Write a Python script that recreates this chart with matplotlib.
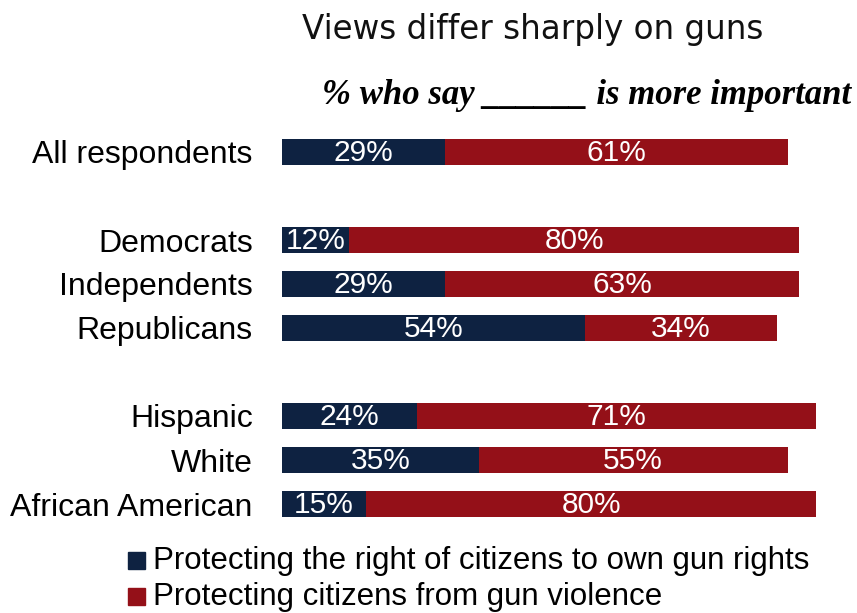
import matplotlib.pyplot as plt
from matplotlib.patches import Rectangle

# data
groups = ['All respondents', 'Democrats', 'Independents', 'Republicans',
          'Hispanic', 'White', 'African American']
rows = [0, 2, 3, 4, 6, 7, 8]  # blank rows between the blocks
gun_rights = [29, 12, 29, 54, 24, 35, 15]
gun_violence = [61, 80, 63, 34, 71, 55, 80]
legend_labels = ['Protecting the right of citizens to own gun rights',
                 'Protecting citizens from gun violence']

navy = '#0e2241'
red = '#941018'

W, H = 857, 613
fig = plt.figure(figsize=(W / 100, H / 100), dpi=100)
ax = fig.add_axes([282 / W, 1 - 526 / H, 562 / W, 396 / H])

ax.barh(rows, gun_rights, height=0.57, color=navy)
ax.barh(rows, gun_violence, left=gun_rights, height=0.57, color=red)

# value labels inside the segments
for r, a, b in zip(rows, gun_rights, gun_violence):
    ax.text(a / 2, r + 0.03, f'{a}%', color='white', ha='center', va='center',
            fontsize=21.5, family='Liberation Sans')
    ax.text(a + b / 2, r + 0.03, f'{b}%', color='white', ha='center', va='center',
            fontsize=21.5, family='Liberation Sans')

ax.set_xlim(0, 100)
ax.set_ylim(8.5, -0.5)
ax.set_yticks(rows)
ax.set_yticklabels(groups, fontsize=23, family='Liberation Sans')
ax.tick_params(axis='y', length=0, pad=21)
ax.set_xticks([])
for s in ax.spines.values():
    s.set_visible(False)

fig.text(533 / W, 1 - 30 / H, 'Views differ sharply on guns', ha='center', va='center',
         fontsize=23.5, family='DejaVu Sans', color='#111111')
fig.text(587 / W, 1 - 96 / H, '% who say ______ is more important', ha='center', va='center',
         fontsize=25, family='Liberation Serif', style='italic', weight='bold')

# legend drawn by hand to match the squares
for i, (lab, c) in enumerate(zip(legend_labels, [navy, red])):
    yc = 1 - (561 + 36 * i) / H
    fig.patches.append(Rectangle((128 / W, yc - 8 / H), 17 / W, 17 / H,
                                 transform=fig.transFigure, color=c))
    fig.text(153 / W, yc, lab, ha='left', va='center', fontsize=22.5,
             family='Liberation Sans')

fig.savefig('out.png', dpi=100)
